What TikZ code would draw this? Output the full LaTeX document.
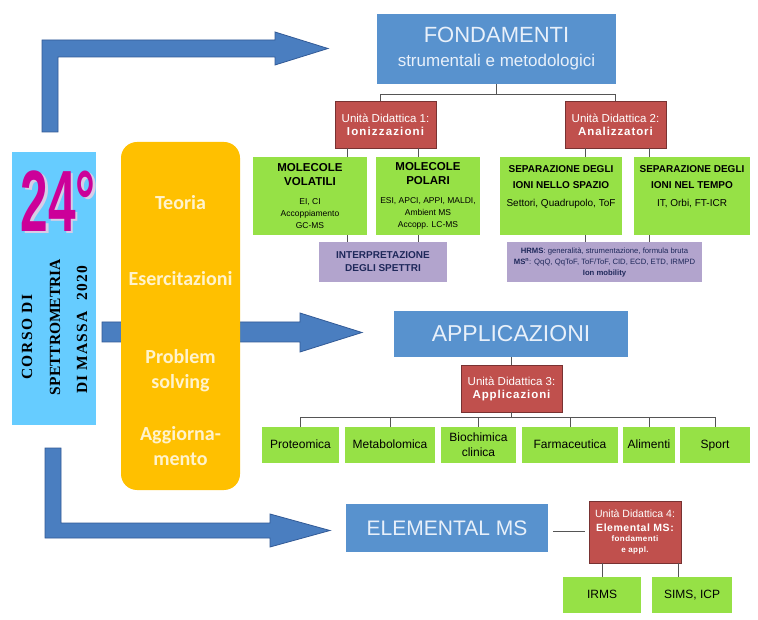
\documentclass[tikz,border=0pt]{standalone}
\usepackage{fontspec}
\setmainfont{Liberation Sans}
\newfontfamily\carlito{Carlito}
\newfontfamily\serifb{Liberation Serif}
\usetikzlibrary{calc}
\newcommand\myfs[2]{\fontsize{#1}{#2}\selectfont}
\definecolor{titleblue}{RGB}{88,146,206}
\definecolor{titletext}{RGB}{232,240,250}
\definecolor{udred}{RGB}{192,80,77}
\definecolor{udborder}{RGB}{120,50,50}
\definecolor{limeg}{RGB}{150,225,70}
\definecolor{lav}{RGB}{178,164,205}
\definecolor{navyt}{RGB}{30,40,90}
\definecolor{arrowblue}{RGB}{74,126,192}
\definecolor{arrowborder}{RGB}{50,90,150}
\definecolor{skyb}{RGB}{102,204,255}
\definecolor{orng}{RGB}{255,192,0}
\definecolor{orngtext}{RGB}{255,243,205}
\definecolor{magent}{RGB}{204,0,153}
\definecolor{shadowc}{RGB}{215,205,230}
\definecolor{linec}{RGB}{85,85,85}
\begin{document}
\begin{tikzpicture}[x=1pt,y=-1pt,
  titlebox/.style={fill=titleblue,text=titletext,inner sep=0pt,align=center},
  udbox/.style={fill=udred,draw=udborder,line width=0.8pt,text=white,inner sep=0pt,align=center},
  gbox/.style={fill=limeg,text=black,inner sep=0pt,align=center},
  oneline/.style={text height=8.6pt,text depth=2.5pt},
  pbox/.style={fill=lav,text=navyt,inner sep=0pt,align=center},
  conn/.style={draw=linec,line width=0.7pt},
  barrow/.style={fill=arrowblue,draw=arrowborder,line width=0.8pt,line join=miter}]
\useasboundingbox (0,0) rectangle (758,620);
\fill[white] (0,0) rectangle (758,620);

% block arrows
\draw[barrow] (42,132) -- (42,40) -- (275,40) -- (275,32) -- (328,48.5) -- (275,65) -- (275,57) -- (58,57) -- (58,132) -- cycle;
\draw[barrow] (102,322) -- (300,322) -- (300,313) -- (362,332.5) -- (300,352) -- (300,342) -- (102,342) -- cycle;
\draw[barrow] (45,448) -- (61,448) -- (61,523) -- (270,523) -- (270,514) -- (330,530.5) -- (270,547) -- (270,538) -- (45,538) -- cycle;

% left course box
\node[fill=skyb,minimum width=84pt,minimum height=273pt,inner sep=0pt] (course) at (54,288.5) {};
\node[text=magent,inner sep=0pt] (num24) at (58,202)
  {\scalebox{0.57}[1]{\myfs{87}{87}\bfseries\rlap{\hspace{5pt}\raisebox{-2.5pt}{\color{shadowc}24°}}24°}};
\node[rotate=90,inner sep=0pt,font=\serifb\bfseries\myfs{15.5}{18}] (l1) at (27,337) {\addfontfeature{LetterSpace=10}CORSO DI};
\node[rotate=90,inner sep=0pt,font=\serifb\bfseries\myfs{15.5}{18}] (l2) at (55,327) {SPETTROMETRIA};
\node[rotate=90,inner sep=0pt,font=\serifb\bfseries\myfs{15.5}{18}] (l3) at (82,330) {\addfontfeature{LetterSpace=8}DI MASSA\ \ 2020};

% orange box
\node[fill=orng,rounded corners=16pt,minimum width=119pt,minimum height=348pt,inner sep=0pt,text=orngtext] (orange) at (180.5,316)
  {\parbox[c][348pt][t]{119pt}{\centering\carlito\bfseries\myfs{20}{25}\vspace*{53pt}Teoria\par\vspace{51pt}Esercitazioni\par\vspace{53pt}Problem\\solving\par\vspace{27pt}Aggiorna-\\mento\par}};

% FONDAMENTI
\node[titlebox,minimum width=239pt,minimum height=70pt,font=\myfs{17}{24}] (fond) at (496.5,49) {\myfs{22}{24}FONDAMENTI\\strumentali e metodologici};
\node[udbox,minimum width=101pt,minimum height=47pt,font=\myfs{11.5}{13}] (ud1) at (385.5,124.5) {Unità Didattica 1:\\\bfseries\addfontfeature{LetterSpace=10}Ionizzazioni};
\node[udbox,minimum width=101pt,minimum height=47pt,font=\myfs{11.5}{13}] (ud2) at (615.5,124.5) {Unità Didattica 2:\\\bfseries\addfontfeature{LetterSpace=8}Analizzatori};

\node[gbox,minimum width=114pt,minimum height=78pt] (g1) at (310,196)
  {\parbox{114pt}{\centering\myfs{11.5}{14}\bfseries MOLECOLE\\VOLATILI\par\vspace{7pt}\myfs{8.5}{12}\mdseries EI, CI\\Accoppiamento\\GC-MS\par}};
\node[gbox,minimum width=104pt,minimum height=78pt] (g2) at (428,196)
  {\parbox{104pt}{\centering\myfs{11.5}{14}\bfseries MOLECOLE\\POLARI\par\vspace{7pt}\myfs{8.5}{12}\mdseries ESI, APCI, APPI, MALDI,\\Ambient MS\\Accopp. LC-MS\par}};
\node[gbox,minimum width=122pt,minimum height=78pt] (g3) at (561,196)
  {\parbox[c][78pt][t]{122pt}{\centering\vspace*{8.4pt}\myfs{10}{16}\bfseries SEPARAZIONE DEGLI\\IONI NELLO SPAZIO\par\vspace{6.4pt}\myfs{10}{12}\mdseries Settori, Quadrupolo, ToF\par}};
\node[gbox,minimum width=116pt,minimum height=78pt] (g4) at (692,196)
  {\parbox[c][78pt][t]{116pt}{\centering\vspace*{8.4pt}\myfs{10}{16}\bfseries SEPARAZIONE DEGLI\\IONI NEL TEMPO\par\vspace{6.4pt}\myfs{10}{12}\mdseries IT, Orbi, FT-ICR\par}};

\node[pbox,minimum width=128pt,minimum height=40pt,font=\myfs{10}{13}\bfseries] (p1) at (383,262) {INTERPRETAZIONE\\DEGLI SPETTRI};
\node[pbox,minimum width=195pt,minimum height=40pt,font=\myfs{7.7}{11}] (p2) at (604.5,262)
  {\textbf{HRMS}: generalità, strumentazione, formula bruta\\\textbf{MS\textsuperscript{n}}: QqQ, QqToF, ToF/ToF, CID, ECD, ETD, IRMPD\\\textbf{Ion mobility}};

% APPLICAZIONI
\node[titlebox,minimum width=234pt,minimum height=46pt,font=\myfs{23}{25}] (app) at (511,334) {APPLICAZIONI};
\node[udbox,minimum width=101pt,minimum height=47pt,font=\myfs{11.5}{13}] (ud3) at (511.5,388.5) {Unità Didattica 3:\\\bfseries\addfontfeature{LetterSpace=8}Applicazioni};
\node[gbox,oneline,minimum width=77pt,minimum height=36pt,font=\myfs{12}{15}] (prot) at (300.5,445) {Proteomica};
\node[gbox,oneline,minimum width=90pt,minimum height=36pt,font=\myfs{12}{15}] (metab) at (390,445) {Metabolomica};
\node[gbox,minimum width=75pt,minimum height=36pt,font=\myfs{12}{15}] (bioch) at (478.5,445) {Biochimica\\clinica};
\node[gbox,oneline,minimum width=96pt,minimum height=36pt,font=\myfs{12}{15}] (farm) at (570,445) {Farmaceutica};
\node[gbox,oneline,minimum width=52pt,minimum height=36pt,font=\myfs{12}{15}] (alim) at (649,445) {Alimenti};
\node[gbox,oneline,minimum width=70pt,minimum height=36pt,font=\myfs{12}{15}] (sport) at (715,445) {Sport};

% ELEMENTAL MS
\node[titlebox,minimum width=202pt,minimum height=48pt,font=\myfs{21}{23}] (elem) at (447,528) {ELEMENTAL MS};
\node[udbox,minimum width=92pt,minimum height=62pt] (ud4) at (635,532)
  {\parbox{92pt}{\centering\myfs{10.5}{13.5}Unità Didattica 4:\\\bfseries\addfontfeature{LetterSpace=5}Elemental MS:\par\myfs{8}{10.5}fondamenti\\e appl.\par}};
\node[gbox,oneline,minimum width=78pt,minimum height=36pt,font=\myfs{12}{15}] (irms) at (602,595) {IRMS};
\node[gbox,oneline,minimum width=80pt,minimum height=36pt,font=\myfs{12}{15}] (sims) at (692,595) {SIMS, ICP};

% connectors
\draw[conn] (fond.south) -- ++(0,11);
\draw[conn] ([xshift=-5.5pt]ud1.north) -- ++(0,-6) -| (ud2.north);
\draw[conn] ([xshift=-38.5pt]ud1.south) -- ([xshift=-38.5pt]ud1.south |- g1.north);
\draw[conn] ([xshift=32.5pt]ud1.south) -- ([xshift=32.5pt]ud1.south |- g2.north);
\draw[conn] ([xshift=-30.5pt]ud2.south) -- ([xshift=-30.5pt]ud2.south |- g3.north);
\draw[conn] ([xshift=33.5pt]ud2.south) -- ([xshift=33.5pt]ud2.south |- g4.north);
\draw[conn] ([xshift=37pt]g1.south) -- ([xshift=37pt]g1.south |- p1.north);
\draw[conn] ([xshift=-10pt]g2.south) -- ([xshift=-10pt]g2.south |- p1.north);
\draw[conn] ([xshift=24pt]g3.south) -- ([xshift=24pt]g3.south |- p2.north);
\draw[conn] ([xshift=-43pt]g4.south) -- ([xshift=-43pt]g4.south |- p2.north);
\draw[conn] (app.south) -- (app.south |- ud3.north);
\draw[conn] (ud3.south) -- ++(0,6);
\draw[conn] (prot.north) -- ++(0,-9) -| (sport.north);
\foreach \n in {metab,bioch,farm,alim} \draw[conn] (\n.north) -- ++(0,-9);
\draw[conn] ([xshift=5pt,yshift=-3pt]elem.east) -- ([xshift=-4pt,yshift=-3pt]elem.east -| ud4.west);
\draw[conn] (irms.north |- ud4.south) -- (irms.north);
\draw[conn] ([xshift=-14pt]sims.north |- ud4.south) -- ([xshift=-14pt]sims.north);
\end{tikzpicture}
\end{document}
